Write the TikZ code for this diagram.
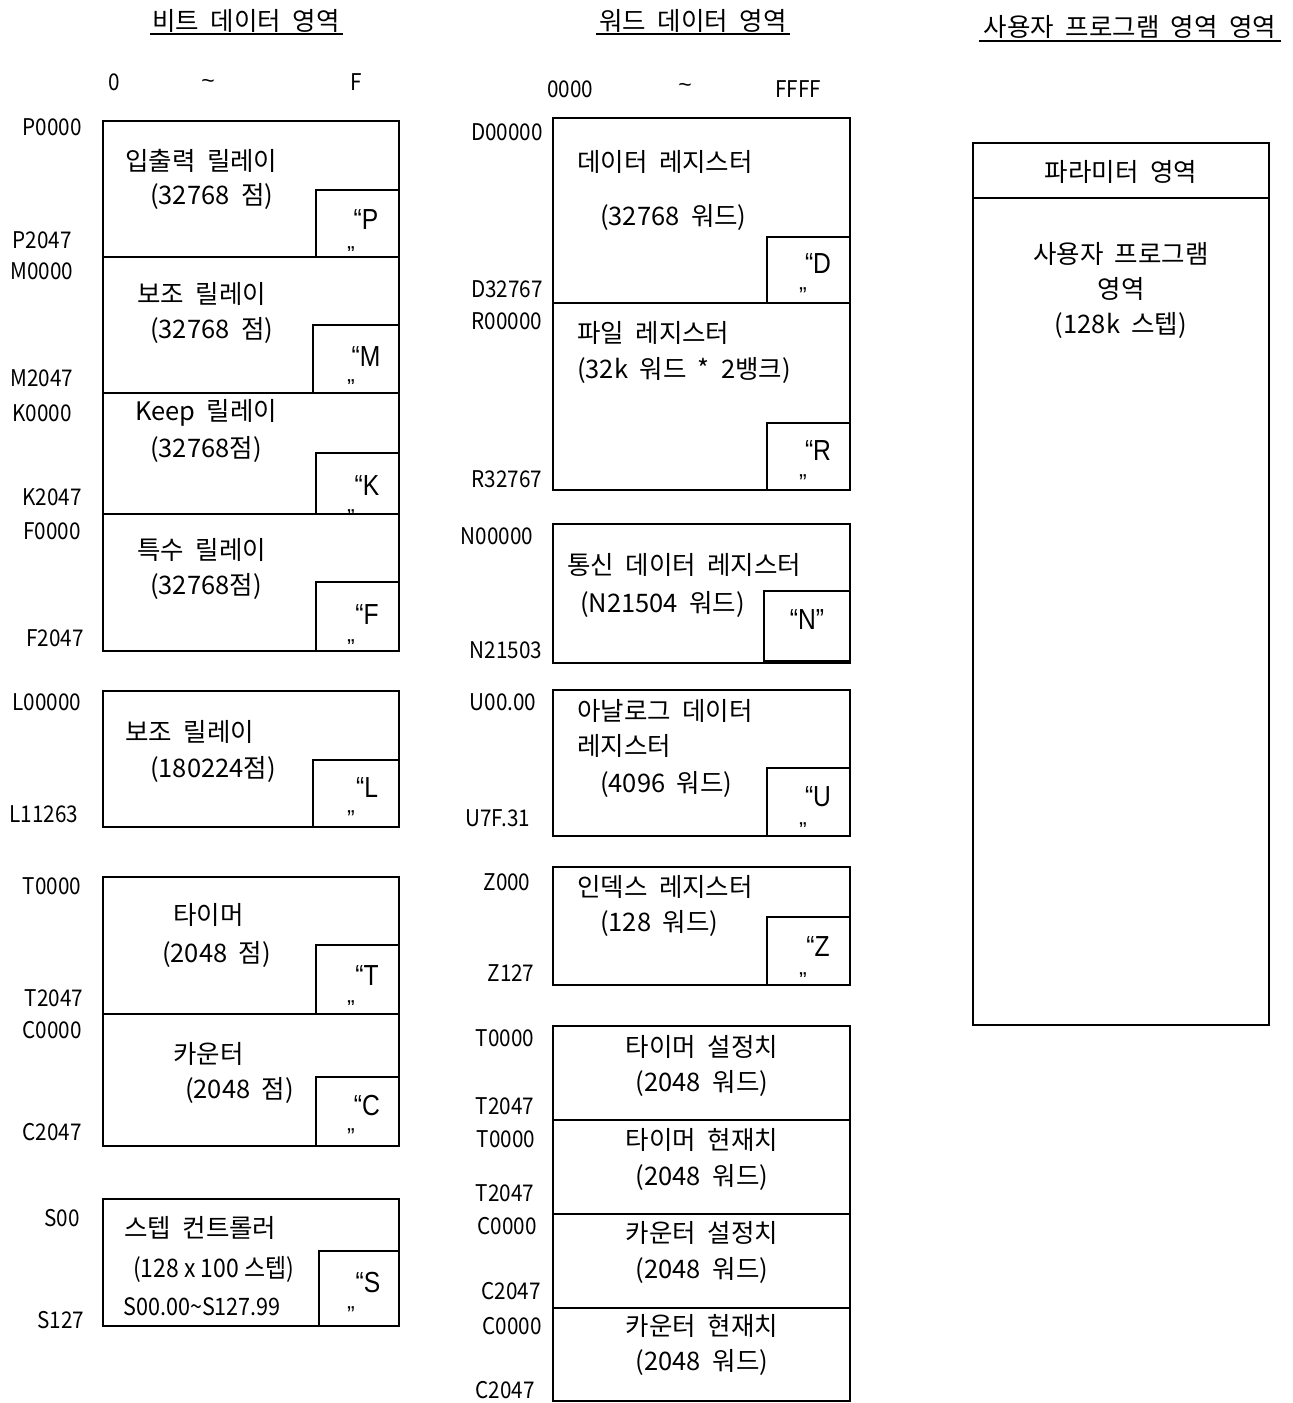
\documentclass[tikz,border=0pt]{standalone}
\usepackage{fontspec}
\setmainfont{Noto Sans CJK KR}[WordSpace=2.0]
\newfontfamily\narrowf{Noto Sans CJK KR}[FakeStretch=0.9]
\newfontfamily\latinf{Liberation Sans}
\newfontfamily\quotef{Liberation Sans}[FakeStretch=0.85]
\begin{document}
\begin{tikzpicture}[x=1pt,y=-1pt,
  box/.style={draw,line width=1.5pt},
  lbl/.style={inner sep=0pt,font=\narrowf\fontsize{23}{27}\selectfont},
  txt/.style={inner sep=0pt,font=\fontsize{25.5}{29}\selectfont},
  qt/.style={inner sep=0pt,font=\quotef\fontsize{29}{33}\selectfont},
  qe/.style={inner sep=0pt,font=\latinf\fontsize{23}{27}\selectfont},
  ul/.style={line width=1.2pt}]
\useasboundingbox (0,0) rectangle (1293,1403);
\fill[white] (0,0) rectangle (1293,1403);

% ---------- headers ----------
\node[txt] (h1) at (246,21) {비트 데이터 영역};
\draw[ul] (150,34) -- (343,34);
\node[txt] (h2) at (693,21) {워드 데이터 영역};
\draw[ul] (596,34) -- (790,34);
\node[txt] (h3) at (1130,27) {사용자 프로그램 영역 영역};
\draw[ul] (979,41) -- (1281,41);

\node[lbl] (b0) at (114,82) {0};
\node[lbl] (bt) at (208,84) {\latinf\textasciitilde};
\node[lbl] (bF) at (356,82) {F};
\node[lbl] (w0) at (570,89) {0000};
\node[lbl] (wt) at (685,88) {\latinf\textasciitilde};
\node[lbl] (wF) at (798,89) {FFFF};

% ---------- left column ----------
\draw[box] (103,121) rectangle (399,257);
\draw[box] (316,190) rectangle (399,257);
\draw[box] (103,257) rectangle (399,393);
\draw[box] (313,325) rectangle (399,393);
\draw[box] (103,393) rectangle (399,514);
\draw[box] (316,453) rectangle (399,514);
\draw[box] (103,514) rectangle (399,651);
\draw[box] (316,582) rectangle (399,651);
\draw[box] (103,691) rectangle (399,827);
\draw[box] (313,760) rectangle (399,827);
\draw[box] (103,877) rectangle (399,1014);
\draw[box] (316,945) rectangle (399,1014);
\draw[box] (103,1014) rectangle (399,1146);
\draw[box] (316,1077) rectangle (399,1146);
\draw[box] (103,1199) rectangle (399,1326);
\draw[box] (319,1251) rectangle (399,1326);

\node[lbl] (lP0) at (52,127) {P0000};
\node[lbl] (lP1) at (42,240) {P2047};
\node[lbl] (lM0) at (42,271) {M0000};
\node[lbl] (lM1) at (42,378) {M2047};
\node[lbl] (lK0) at (42,413) {K0000};
\node[lbl] (lK1) at (52,497) {K2047};
\node[lbl] (lF0) at (52,531) {F0000};
\node[lbl] (lF1) at (55,638) {F2047};
\node[lbl] (lL0) at (47,702) {L00000};
\node[lbl] (lL1) at (44,814) {L11263};
\node[lbl] (lT0) at (52,886) {T0000};
\node[lbl] (lT1) at (54,998) {T2047};
\node[lbl] (lC0) at (52,1030) {C0000};
\node[lbl] (lC1) at (52,1132) {C2047};
\node[lbl] (lS0) at (62,1218) {S00};
\node[lbl] (lS1) at (61,1320) {S127};

\node[txt,anchor=west] (tP1) at (125,161) {입출력 릴레이};
\node[txt,anchor=west] (tP2) at (150,196) {(32768 점)};
\node[txt,anchor=west] (tM1) at (137,294) {보조 릴레이};
\node[txt,anchor=west] (tM2) at (150,330) {(32768 점)};
\node[txt,anchor=west] (tK1) at (135,413) {Keep 릴레이};
\node[txt,anchor=west] (tK2) at (150,449) {(32768점)};
\node[txt,anchor=west] (tF1) at (137,550) {특수 릴레이};
\node[txt,anchor=west] (tF2) at (150,586) {(32768점)};
\node[txt,anchor=west] (tL1) at (125,732) {보조 릴레이};
\node[txt,anchor=west] (tL2) at (150,769) {(180224점)};
\node[txt,anchor=west] (tT1) at (173,915) {타이머};
\node[txt,anchor=west] (tT2) at (162,954) {(2048 점)};
\node[txt,anchor=west] (tC1) at (173,1054) {카운터};
\node[txt,anchor=west] (tC2) at (185,1090) {(2048 점)};
\node[txt,anchor=west] (tS1) at (124,1228) {스텝 컨트롤러};
\node[txt,anchor=west,font=\narrowf\fontsize{25.5}{29}\selectfont] (tS2) at (133,1269) {(128 x 100 스텝)};
\node[txt,anchor=west,font=\narrowf\fontsize{24}{28}\selectfont] (tS3) at (123,1307) {S00.00\textasciitilde S127.99};

\node[qt] (qP) at (366,220) {“P};
\node[qt] (qM) at (366,357) {“M};
\node[qt] (qK) at (367,486) {“K};
\node[qt] (qF) at (367,615) {“F};
\node[qt] (qL) at (367,788) {“L};
\node[qt] (qT) at (367,976) {“T};
\node[qt] (qC) at (367,1106) {“C};
\node[qt] (qS) at (368,1282) {“S};

\begin{scope}\clip (330,240) rectangle (380,250);
\node[qe] (eP) at (351,255) {”};\end{scope}
\begin{scope}\clip (330,372) rectangle (380,383);
\node[qe] (eM) at (351,388) {”};\end{scope}
\begin{scope}\clip (330,504) rectangle (380,513);
\node[qe] (eK) at (351,518) {”};\end{scope}
\begin{scope}\clip (330,632) rectangle (380,643);
\node[qe] (eF) at (351,648) {”};\end{scope}
\begin{scope}\clip (330,993) rectangle (380,1004);
\node[qe] (eT) at (351,1009) {”};\end{scope}
\node[qe] (eL) at (351,819) {”};
\node[qe] (eC) at (351,1137) {”};
\node[qe] (eS) at (351,1315) {”};

% ---------- middle column ----------
\draw[box] (553,118) rectangle (850,303);
\draw[box] (767,237) rectangle (850,303);
\draw[box] (553,303) rectangle (850,490);
\draw[box] (767,423) rectangle (850,490);
\draw[box] (553,524) rectangle (850,663);
\draw[box] (764,591) rectangle (850,661);
\draw[box] (553,690) rectangle (850,836);
\draw[box] (767,768) rectangle (850,836);
\draw[box] (553,867) rectangle (850,985);
\draw[box] (767,917) rectangle (850,985);
\draw[box] (553,1026) rectangle (850,1120);
\draw[box] (553,1120) rectangle (850,1214);
\draw[box] (553,1214) rectangle (850,1308);
\draw[box] (553,1308) rectangle (850,1401);

\node[lbl] (mD0) at (507,132) {D00000};
\node[lbl] (mD1) at (507,289) {D32767};
\node[lbl] (mR0) at (507,321) {R00000};
\node[lbl] (mR1) at (507,479) {R32767};
\node[lbl] (mN0) at (497,536) {N00000};
\node[lbl] (mN1) at (506,650) {N21503};
\node[lbl] (mU0) at (503,702) {U00.00};
\node[lbl] (mU1) at (498,818) {U7F.31};
\node[lbl] (mZ0) at (507,882) {Z000};
\node[lbl] (mZ1) at (511,973) {Z127};
\node[lbl] (mT0) at (505,1038) {T0000};
\node[lbl] (mT1) at (505,1106) {T2047};
\node[lbl] (mT2) at (506,1139) {T0000};
\node[lbl] (mT3) at (505,1193) {T2047};
\node[lbl] (mC0) at (507,1226) {C0000};
\node[lbl] (mC1) at (511,1291) {C2047};
\node[lbl] (mC2) at (512,1326) {C0000};
\node[lbl] (mC3) at (505,1390) {C2047};

\node[txt,anchor=west] (tD1) at (577,162) {데이터 레지스터};
\node[txt,anchor=west] (tD2) at (600,217) {(32768 워드)};
\node[txt,anchor=west] (tR1) at (577,333) {파일 레지스터};
\node[txt,anchor=west] (tR2) at (577,370) {(32k 워드 * 2뱅크)};
\node[txt,anchor=west] (tN1) at (567,565) {통신 데이터 레지스터};
\node[txt,anchor=west] (tN2) at (580,604) {(N21504 워드)};
\node[txt,anchor=west] (tU1) at (577,711) {아날로그 데이터};
\node[txt,anchor=west] (tU2) at (577,746) {레지스터};
\node[txt,anchor=west] (tU3) at (600,784) {(4096 워드)};
\node[txt,anchor=west] (tZ1) at (577,887) {인덱스 레지스터};
\node[txt,anchor=west] (tZ2) at (600,923) {(128 워드)};

\node[txt] (tTs1) at (702,1047) {타이머 설정치};
\node[txt] (tTs2) at (702,1083) {(2048 워드)};
\node[txt] (tTc1) at (702,1140) {타이머 현재치};
\node[txt] (tTc2) at (702,1177) {(2048 워드)};
\node[txt] (tCs1) at (702,1233) {카운터 설정치};
\node[txt] (tCs2) at (702,1270) {(2048 워드)};
\node[txt] (tCc1) at (702,1326) {카운터 현재치};
\node[txt] (tCc2) at (702,1362) {(2048 워드)};

\node[qt] (qD) at (818,264) {“D};
\node[qt] (qR) at (818,451) {“R};
\node[qt] (qN) at (807,620) {“N”};
\node[qt] (qU) at (818,797) {“U};
\node[qt] (qZ) at (818,947) {“Z};
\node[qe] (eD) at (803,296) {”};
\node[qe] (eR) at (803,483) {”};
\begin{scope}\clip (780,814) rectangle (830,826);
\node[qe] (eU) at (803,831) {”};\end{scope}
\begin{scope}\clip (780,964) rectangle (830,976);
\node[qe] (eZ) at (803,981) {”};\end{scope}

% ---------- right column ----------
\draw[box] (973,143) rectangle (1269,1025);
\draw[box] (973,198) -- (1269,198);
\node[txt] (pa) at (1121,172) {파라미터 영역};
\node[txt] (up1) at (1121,254) {사용자 프로그램};
\node[txt] (up2) at (1121,289) {영역};
\node[txt] (up3) at (1121,325) {(128k 스텝)};
\end{tikzpicture}
\end{document}
